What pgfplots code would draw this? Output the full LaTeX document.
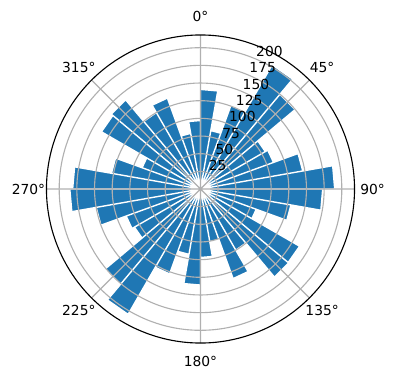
\documentclass[border=0pt]{standalone}
\usepackage{fontspec}
\setmainfont{DejaVu Sans}
\usepackage{pgfplots}
\pgfplotsset{compat=1.18}
\usepgfplotslibrary{polar}
\definecolor{C0}{HTML}{1F77B4}
\definecolor{gridgray}{HTML}{B0B0B0}
\begin{document}
\begin{tikzpicture}
\useasboundingbox (-144.36bp,-137.52bp) rectangle (140.76bp,136.08bp);
\begin{polaraxis}[
  at={(0,0)}, anchor=center,
  scale only axis, width=221.76bp, height=221.76bp,
  xmin=67.5, xmax=427.5,
  ymin=0, ymax=218,
  xtick={90,135,180,225,270,315,360,405},
  xticklabels={0°,315°,270°,225°,180°,135°,90°,45°},
  ytick={25,50,...,200},
  grid=major,
  major grid style={draw=gridgray, line width=0.8bp},
  axis line style={line width=0.8bp, black},
  y axis line style={draw=none},
  major tick length=0pt,
  axis on top,
  clip=false,
  tick label style={font=\fontsize{10}{12}\selectfont},
  xticklabel style={anchor=center, xshift={13bp*cos(\tick)}, yshift={13bp*sin(\tick)}},
  /pgf/number format/assume math mode=true,
  yticklabel style={anchor=south west, inner sep=1bp},
]
\addplot[fill=C0, draw=white, line width=1bp] coordinates {
(0,0) (80,141) (90,141)
(0,0) (70,84) (80,84)
(0,0) (60,126) (70,126)
(0,0) (50,203) (60,203)
(0,0) (40,175) (50,175)
(0,0) (30,106) (40,106)
(0,0) (20,110) (30,110)
(0,0) (10,147) (20,147)
(0,0) (0,190) (10,190)
(0,0) (350,173) (360,173)
(0,0) (340,130) (350,130)
(0,0) (330,84) (340,84)
(0,0) (320,162) (330,162)
(0,0) (310,163) (320,163)
(0,0) (300,100) (310,100)
(0,0) (290,135) (300,135)
(0,0) (280,76) (290,76)
(0,0) (270,97) (280,97)
(0,0) (260,136) (270,136)
(0,0) (250,94) (260,94)
(0,0) (240,128) (250,128)
(0,0) (230,205) (240,205)
(0,0) (220,176) (230,176)
(0,0) (210,108) (220,108)
(0,0) (200,112) (210,112)
(0,0) (190,150) (200,150)
(0,0) (180,185) (190,185)
(0,0) (170,181) (180,181)
(0,0) (160,128) (170,128)
(0,0) (150,88) (160,88)
(0,0) (140,162) (150,162)
(0,0) (130,165) (140,165)
(0,0) (120,125) (130,125)
(0,0) (110,137) (120,137)
(0,0) (100,80) (110,80)
(0,0) (90,97) (100,97)
(0,0)
};
\end{polaraxis}
\end{tikzpicture}
\end{document}
